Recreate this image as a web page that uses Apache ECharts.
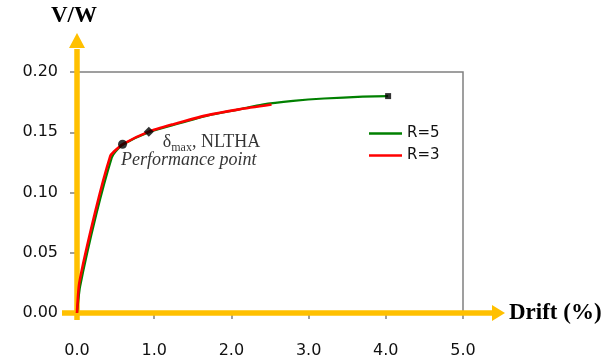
<!DOCTYPE html>
<html>
<head>
<meta charset="utf-8">
<script src="https://cdn.jsdelivr.net/npm/echarts@6/dist/echarts.min.js"></script>
<style>
  html, body { margin: 0; padding: 0; background: #ffffff; }
  #chart { width: 615px; height: 362px; }
</style>
</head>
<body>
<div id="chart"></div>
<script>
// Pushover capacity curves: base shear coefficient V/W against roof drift (%)
const driftR5 = [0, 0.04, 0.25, 0.45, 0.50, 0.60, 0.93, 1.25, 1.70, 2.10, 2.40, 2.80, 3.20, 3.70, 4.03];
const vwR5    = [0, 0.022, 0.082, 0.129, 0.134, 0.140, 0.150, 0.156, 0.164, 0.169, 0.173, 0.176, 0.178, 0.1795, 0.180];
const driftR3 = [0, 0.03, 0.24, 0.43, 0.48, 0.59, 0.93, 1.24, 1.68, 2.10, 2.52];
const vwR3    = [0, 0.025, 0.085, 0.130, 0.134, 0.140, 0.1505, 0.1565, 0.164, 0.169, 0.173];

const performancePoint = [0.59, 0.140];
const nlthaPoint = [0.93, 0.1505];

const xTicks = [0, 1, 2, 3, 4, 5];
const yTicks = [0, 0.05, 0.10, 0.15, 0.20];

const AXIS_YELLOW = '#FFC000';
const GREY = '#808080';

const zip = (xs, ys) => xs.map((x, i) => [x, ys[i]]);

const chart = echarts.init(document.getElementById('chart'), null, { renderer: 'canvas' });

const tickFont = { fontFamily: 'DejaVu Sans', fontSize: 16, color: '#111' };

chart.setOption({
  animation: false,
  backgroundColor: '#ffffff',
  grid: {
    left: 77, right: 152, top: 72, bottom: 49,
    show: true, borderColor: GREY, borderWidth: 1.5, backgroundColor: 'transparent'
  },
  xAxis: {
    type: 'value',
    min: xTicks[0], max: xTicks[xTicks.length - 1], interval: 1,
    name: 'Drift (%)', nameLocation: 'end', nameGap: 46,
    nameTextStyle: { fontFamily: 'Liberation Serif', fontWeight: 'bold', fontSize: 23, color: '#000', verticalAlign: 'middle' },
    axisLine: { show: false },
    axisTick: { show: true, length: 6, lineStyle: { color: GREY, width: 1.5 } },
    axisLabel: { margin: 30, formatter: v => v.toFixed(1), ...tickFont },
    splitLine: { show: false }
  },
  yAxis: {
    type: 'value',
    min: yTicks[0], max: yTicks[yTicks.length - 1], interval: 0.05,
    name: 'V/W', nameLocation: 'end', nameGap: 44,
    nameTextStyle: { fontFamily: 'Liberation Serif', fontWeight: 'bold', fontSize: 23, color: '#000', padding: [0, 6, 0, 0] },
    axisLine: { show: false },
    axisTick: { show: true, length: 7, lineStyle: { color: GREY, width: 1.5 } },
    axisLabel: { margin: 19, formatter: v => v.toFixed(2), ...tickFont },
    splitLine: { show: false }
  },
  legend: {
    data: ['R=5', 'R=3'],
    orient: 'vertical',
    left: 369, top: 126, padding: 0,
    icon: 'rect', itemWidth: 33, itemHeight: 2.5, itemGap: 7,
    textStyle: { fontFamily: 'DejaVu Sans', fontSize: 15, color: '#111' }
  },
  series: [
    {
      name: 'R=5', type: 'line', data: zip(driftR5, vwR5),
      showSymbol: false, symbol: 'none', smooth: 0.2, z: 3,
      lineStyle: { color: '#008000', width: 2.2 }, itemStyle: { color: '#008000' }
    },
    {
      name: 'R=3', type: 'line', data: zip(driftR3, vwR3),
      showSymbol: false, symbol: 'none', smooth: 0.2, z: 4,
      lineStyle: { color: '#FF0000', width: 2.6 }, itemStyle: { color: '#FF0000' }
    },
    {
      name: 'end', type: 'scatter', z: 5,
      data: [[driftR5[driftR5.length - 1], vwR5[vwR5.length - 1]]],
      symbol: 'rect', symbolSize: 6, itemStyle: { color: '#000' }
    },
    {
      name: 'Performance point', type: 'scatter', z: 6,
      data: [performancePoint], symbol: 'circle', symbolSize: 9,
      itemStyle: { color: '#000' },
      label: {
        show: true, position: 'right', distance: 0, offset: [-6, 16],
        formatter: 'Performance point',
        fontFamily: 'Liberation Serif', fontStyle: 'italic', fontSize: 18, color: '#000'
      }
    },
    {
      name: 'NLTHA', type: 'scatter', z: 6,
      data: [nlthaPoint], symbol: 'diamond', symbolSize: 10,
      itemStyle: { color: '#000' },
      label: {
        show: true, position: 'right', distance: 0, offset: [9, 10],
        formatter: '{d|δ}{s|max}{d|, NLTHA}',
        rich: {
          d: { fontFamily: 'Liberation Serif', fontSize: 18, color: '#000', verticalAlign: 'bottom', lineHeight: 20 },
          s: { fontFamily: 'Liberation Serif', fontSize: 12, color: '#000', verticalAlign: 'bottom', lineHeight: 16, padding: [0, 0, -2, 0] }
        }
      }
    }
  ]
});

// Yellow axis arrows, laid out from the axis scales
function drawAxisArrows() {
  const o = chart.convertToPixel({ gridIndex: 0 }, [xTicks[0], yTicks[0]]);
  const top = chart.convertToPixel({ gridIndex: 0 }, [xTicks[0], yTicks[yTicks.length - 1]]);
  const right = chart.convertToPixel({ gridIndex: 0 }, [xTicks[xTicks.length - 1], yTicks[0]]);
  const lw = 5.5;
  const vBase = top[1] - 24, vTip = top[1] - 39;
  const hBase = right[0] + 29, hTip = right[0] + 42;
  chart.setOption({
    graphic: [
      { type: 'line', z: 2, shape: { x1: o[0], y1: o[1] + 7, x2: o[0], y2: vBase + 1 },
        style: { stroke: AXIS_YELLOW, lineWidth: lw } },
      { type: 'polygon', z: 2, shape: { points: [[o[0] - 8, vBase], [o[0] + 8, vBase], [o[0], vTip]] },
        style: { fill: AXIS_YELLOW } },
      { type: 'line', z: 2, shape: { x1: o[0] - 15, y1: o[1], x2: hBase + 1, y2: o[1] },
        style: { stroke: AXIS_YELLOW, lineWidth: lw } },
      { type: 'polygon', z: 2, shape: { points: [[hBase, o[1] - 8], [hBase, o[1] + 8], [hTip, o[1]]] },
        style: { fill: AXIS_YELLOW } }
    ]
  });
}
drawAxisArrows();
</script>
</body>
</html>
